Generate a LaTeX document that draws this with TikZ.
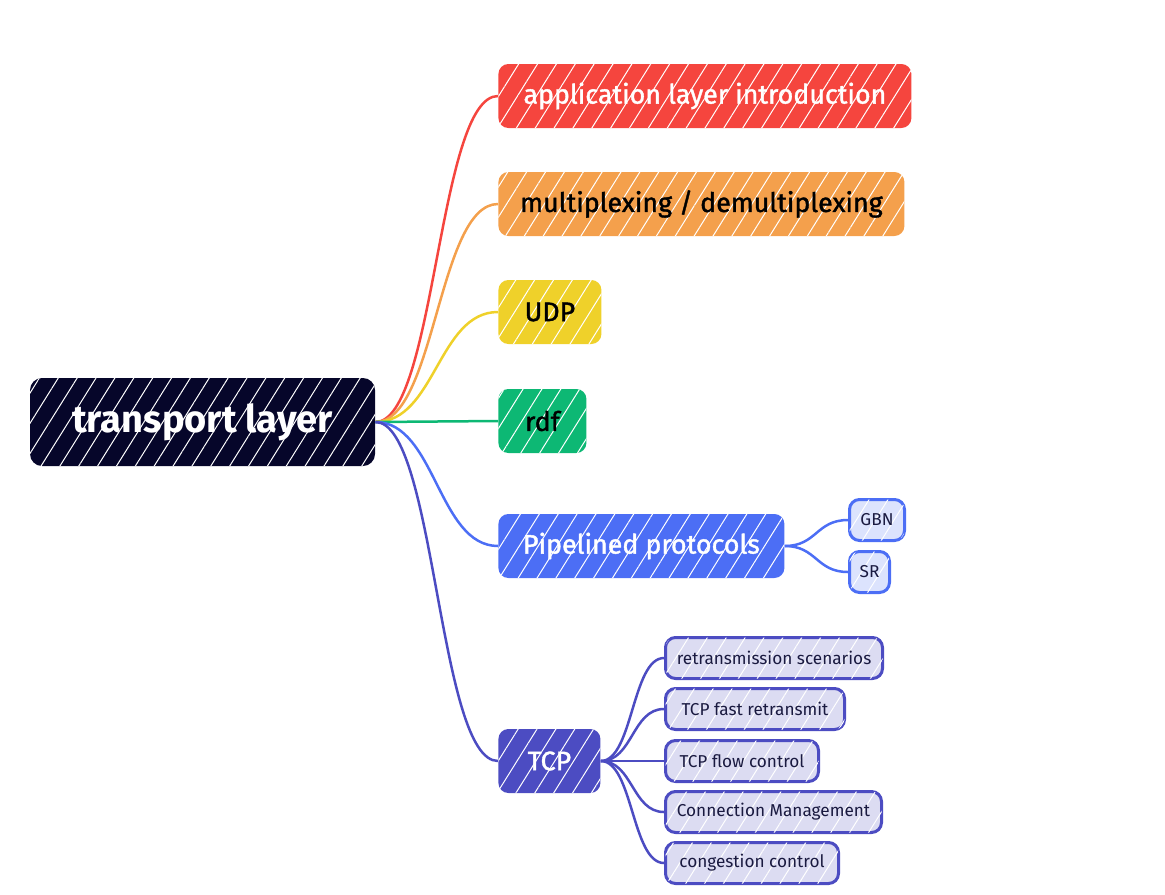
\documentclass[tikz,border=0pt]{standalone}
\usepackage{fontspec}
\setmainfont{Fira Sans}
\newfontfamily\topicfont{Fira Sans}[FakeBold=1.4]
\usetikzlibrary{patterns.meta}
\definecolor{rootnavy}{HTML}{06062A}
\definecolor{appred}{HTML}{F5453E}
\definecolor{muxorange}{HTML}{F4A04C}
\definecolor{udpyellow}{HTML}{EFD12A}
\definecolor{rdfgreen}{HTML}{0DB874}
\definecolor{pipeblue}{HTML}{4C6EF5}
\definecolor{tcppurple}{HTML}{4C4CC2}
\definecolor{lightblue}{HTML}{DCE3FD}
\definecolor{lightpurple}{HTML}{DCDCF2}
\definecolor{inknavy}{HTML}{1A1A40}

\tikzset{
	hatch/.style={postaction={pattern={Lines[angle=58,distance=8pt,line width=.5pt]}, pattern color=white, fill opacity=#1}},
	hatch/.default=.7,
	topic/.style={rounded corners=5pt, minimum height=32pt, inner xsep=0pt, anchor=west,
		font=\topicfont\fontsize{13.4}{15}\selectfont, fill=#1, hatch},
	subtopic/.style={rounded corners=5pt, minimum height=20.5pt, inner xsep=0pt, anchor=west,
		font=\fontsize{8.6}{10}\selectfont, text=inknavy, draw=#1, line width=1.5pt, hatch=.5},
	branch/.style={line width=1.25pt, draw=#1}
}

\begin{document}
\begin{tikzpicture}[x=0.5pt, y=-0.5pt]
	\useasboundingbox (0,0) rectangle (1165,894);

	\node[rounded corners=6pt, fill=rootnavy, hatch, text=white, minimum width=172.5pt, minimum height=44pt,
		font=\fontsize{19}{22}\selectfont\bfseries] (root) at (202.5,422) {transport layer};

	\node[topic=appred, text=white, minimum width=206.5pt] (app) at (498,96) {application layer introduction};
	\node[topic=muxorange, minimum width=203pt] (mux) at (498,204) {multiplexing / demultiplexing};
	\node[topic=udpyellow, minimum width=51.5pt] (udp) at (498,312) {UDP};
	\node[topic=rdfgreen, minimum width=44pt] (rdf) at (498,421) {rdf};
	\node[topic=pipeblue, text=white, minimum width=143pt] (pipe) at (498,546) {Pipelined protocols};
	\node[topic=tcppurple, text=white, minimum width=51pt] (tcp) at (498,761) {TCP};

	\node[subtopic=pipeblue, fill=lightblue, minimum width=27.5pt] (gbn) at (848,520) {GBN};
	\node[subtopic=pipeblue, fill=lightblue, minimum width=20pt] (sr) at (848,572) {SR};

	\node[subtopic=tcppurple, fill=lightpurple, minimum width=108.5pt] (retx) at (664,658) {retransmission scenarios};
	\node[subtopic=tcppurple, fill=lightpurple, minimum width=89.5pt] (fast) at (664,709) {TCP fast retransmit};
	\node[subtopic=tcppurple, fill=lightpurple, minimum width=76.5pt] (flow) at (664,761) {TCP flow control};
	\node[subtopic=tcppurple, fill=lightpurple, minimum width=108pt] (conn) at (664,812) {Connection Management};
	\node[subtopic=tcppurple, fill=lightpurple, minimum width=86.5pt] (cong) at (664,863) {congestion control};

	% root to topics
	\draw[branch=appred] (root.east) .. controls +(60,0) and +(-60,0) .. (app.west);
	\draw[branch=muxorange] (root.east) .. controls +(60,0) and +(-60,0) .. (mux.west);
	\draw[branch=udpyellow] (root.east) .. controls +(60,0) and +(-60,0) .. (udp.west);
	\draw[branch=rdfgreen] (root.east) -- (rdf.west);
	\draw[branch=pipeblue] (root.east) .. controls +(60,0) and +(-60,0) .. (pipe.west);
	\draw[branch=tcppurple] (root.east) .. controls +(60,0) and +(-60,0) .. (tcp.west);

	% topics to subtopics
	\foreach \sub in {gbn, sr}
		\draw[branch=pipeblue] (pipe.east) .. controls +(32,0) and +(-32,0) .. (\sub.west);
	\foreach \sub in {retx, fast, flow, conn, cong}
		\draw[branch=tcppurple] (tcp.east) .. controls +(32,0) and +(-32,0) .. (\sub.west);
\end{tikzpicture}
\end{document}
